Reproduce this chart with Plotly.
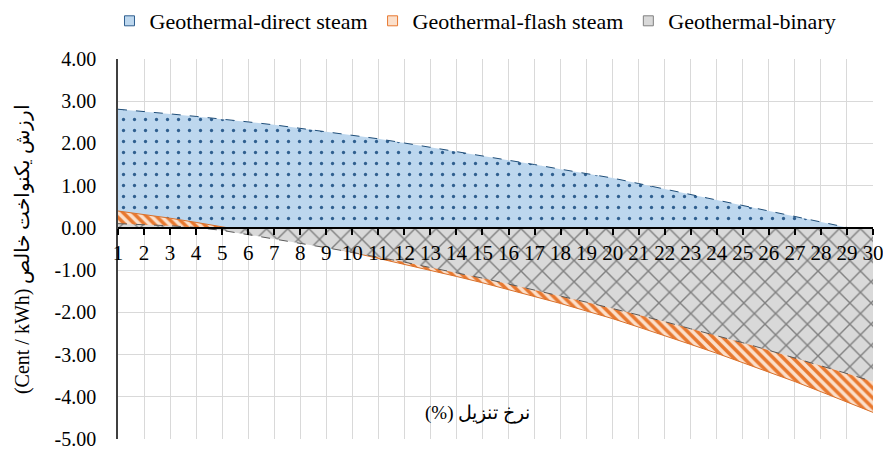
import plotly.graph_objects as go

rates = list(range(1, 31))
direct_steam = [2.81, 2.76, 2.70, 2.64, 2.58, 2.51, 2.44, 2.36, 2.28, 2.20,
                2.11, 2.01, 1.91, 1.81, 1.70, 1.60, 1.50, 1.39, 1.29, 1.18,
                1.05, 0.92, 0.79, 0.66, 0.52, 0.40, 0.27, 0.14, 0.01, -0.12]
flash_steam = [0.40, 0.32, 0.23, 0.13, 0.03, -0.08, -0.19, -0.31, -0.44, -0.58,
               -0.72, -0.86, -1.00, -1.15, -1.30, -1.46, -1.62, -1.79, -1.97, -2.15,
               -2.35, -2.55, -2.76, -2.97, -3.19, -3.41, -3.64, -3.88, -4.12, -4.37]
binary = [0.10, 0.08, 0.05, 0.01, -0.06, -0.16, -0.26, -0.36, -0.47, -0.58,
          -0.69, -0.81, -0.94, -1.06, -1.19, -1.33, -1.47, -1.61, -1.76, -1.91,
          -2.06, -2.22, -2.39, -2.55, -2.72, -2.90, -3.08, -3.26, -3.45, -3.64]
series_names = ["Geothermal-direct steam", "Geothermal-flash steam", "Geothermal-binary"]
y_ticks = [4, 3, 2, 1, 0, -1, -2, -3, -4, -5]
y_title = "(Cent / kWh) ارزش یکنواخت خالص"
x_title = "(%) نرخ تنزیل"

FONT = "Liberation Serif"

styles = [
    dict(bg="#bdd7ee", fg="#2f5f8f", shape=".", size=11, solidity=0.07,
         line="#1f4e79", dash="dash"),
    dict(bg="#fbe0cc", fg="#e8782f", shape="\\", size=7, solidity=0.5,
         line="#d9702a", dash="solid"),
    dict(bg="#d9d9d9", fg="#808080", shape="x", size=15, solidity=0.18,
         line="#595959", dash="dash"),
]

fig = go.Figure()
for name, vals, st in zip(series_names, [direct_steam, flash_steam, binary], styles):
    fig.add_trace(go.Scatter(
        x=rates, y=vals, mode="lines", name=name, showlegend=False,
        fill="tozeroy", fillcolor=st["bg"],
        fillpattern=dict(shape=st["shape"], fgcolor=st["fg"], bgcolor=st["bg"],
                         size=st["size"], solidity=st["solidity"], fillmode="replace"),
        line=dict(color=st["line"], width=1, dash=st["dash"]),
    ))
    fig.add_trace(go.Scatter(
        x=[None], y=[None], mode="markers", name=name, showlegend=True,
        marker=dict(symbol="square", size=10, color=st["bg"],
                    line=dict(color=st["fg"], width=1)),
    ))

fig.update_layout(
    width=883, height=449,
    margin=dict(l=118, r=10, t=59, b=10, autoexpand=False),
    paper_bgcolor="white", plot_bgcolor="white",
    font=dict(family=FONT, size=21, color="black"),
    showlegend=True,
    legend=dict(orientation="h", x=0.4735, xanchor="center", y=1.0, yref="container",
                yanchor="top", font=dict(family=FONT, size=22),
                itemwidth=30, tracegroupgap=0, bgcolor="rgba(0,0,0,0)"),
    xaxis=dict(
        range=[1, 30], tickmode="array", tickvals=rates, ticktext=[str(r) for r in rates],
        showgrid=True, gridcolor="#d9d9d9", gridwidth=1,
        anchor="free", position=5 / 9,
        showline=True, linecolor="black", linewidth=2,
        ticks="outside", ticklen=6, tickcolor="black", tickwidth=1.5,
        tickfont=dict(family=FONT, size=21), ticklabeloverflow="allow",
        zeroline=False,
    ),
    yaxis=dict(
        range=[-5, 4], tickmode="array", tickvals=y_ticks,
        ticktext=[f"{v:.2f}" for v in y_ticks],
        showgrid=True, gridcolor="#d9d9d9", gridwidth=1,
        showline=True, linecolor="#404040", linewidth=1.5,
        zeroline=False, ticks="", ticklabelstandoff=16,
        tickfont=dict(family=FONT, size=20), ticklabeloverflow="allow",
    ),
    annotations=[
        dict(text=y_title, xref="paper", yref="paper", x=-0.127, y=0.5,
             xanchor="center", yanchor="middle", textangle=-90, showarrow=False,
             font=dict(family=FONT, size=20)),
        dict(text=x_title, xref="x", yref="y", x=14.8, y=-4.385,
             xanchor="center", yanchor="middle", showarrow=False,
             font=dict(family=FONT, size=19)),
    ],
)

fig.write_html(
    "out.html",
    config={"displayModeBar": False},
    post_script="document.body.style.margin='0';document.body.style.padding='0';"
                "document.body.style.overflow='hidden';",
)
